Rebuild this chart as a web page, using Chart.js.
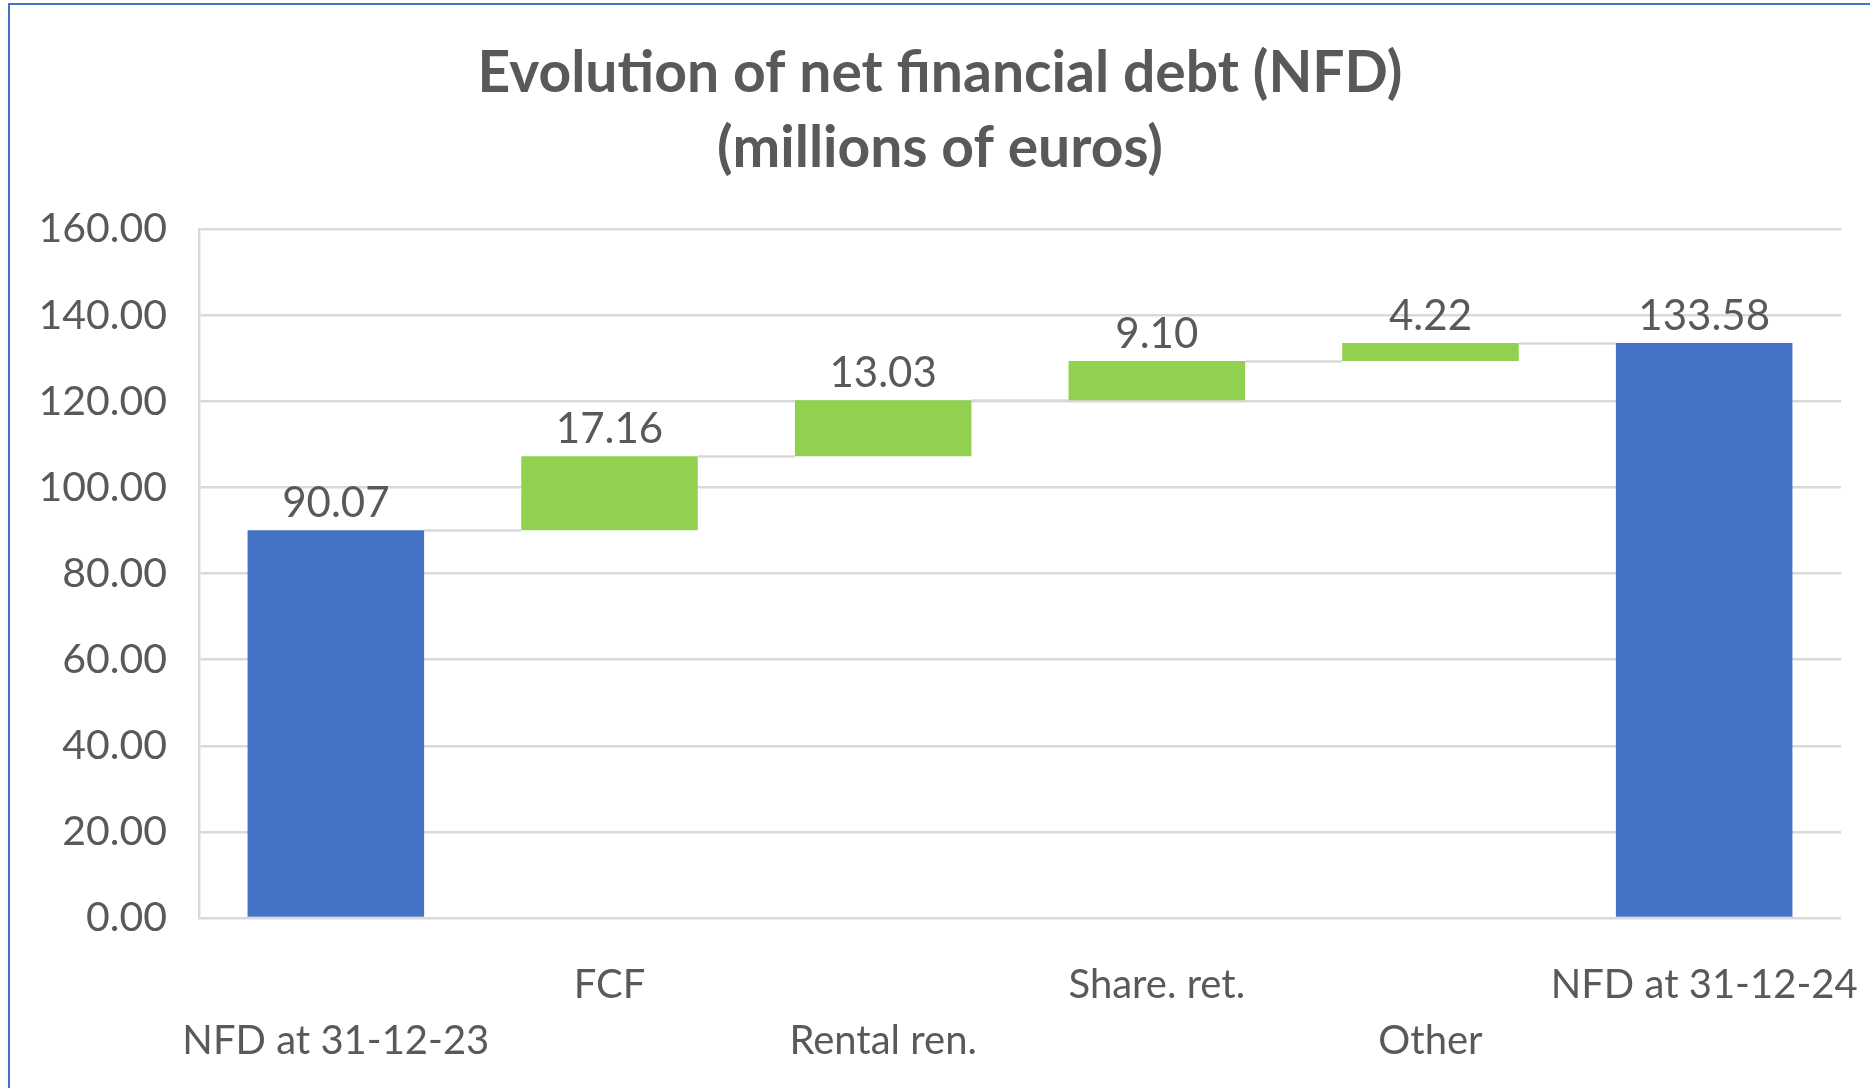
<!DOCTYPE html>
<html>
<head>
<meta charset="utf-8">
<script src="https://cdn.jsdelivr.net/npm/chart.js@4.4.1/dist/chart.umd.min.js"></script>
<style>
  html, body { margin: 0; padding: 0; background: #fff; }
  #wrap {
    position: absolute; left: 8px; top: 3px; right: 0; bottom: 0;
    border-left: 2px solid #4472c4; border-top: 2px solid #4472c4;
  }
  canvas { display: block; }
</style>
</head>
<body>
<div id="wrap"><canvas id="nfd" width="1860" height="1083"></canvas></div>
<script>
const categories = ['NFD at 31-12-23', 'FCF', 'Rental ren.', 'Share. ret.', 'Other', 'NFD at 31-12-24'];
const amounts = [90.07, 17.16, 13.03, 9.10, 4.22, 133.58];
const isTotal = [true, false, false, false, false, true];
const yMin = 0, yMax = 160, yStep = 20;

const textColor = '#595959';
const gridColor = '#d9d9d9';

// floating bar ranges for the waterfall
let running = 0;
const ranges = amounts.map((v, i) => {
  if (isTotal[i]) { running = v; return [0, v]; }
  const r = [running, +(running + v).toFixed(2)];
  running = r[1];
  return r;
});

const waterfallExtras = {
  id: 'waterfallExtras',
  beforeDatasetsDraw(chart) {
    const bars = chart.getDatasetMeta(0).data;
    const y = chart.scales.y;
    const ctx = chart.ctx;
    ctx.save();
    ctx.strokeStyle = gridColor;
    ctx.lineWidth = 2.5;
    for (let i = 0; i < bars.length - 1; i++) {
      const py = Math.round(y.getPixelForValue(ranges[i][1])) + 0.5;
      ctx.beginPath();
      ctx.moveTo(bars[i].x + bars[i].width / 2, py);
      ctx.lineTo(bars[i + 1].x - bars[i + 1].width / 2, py);
      ctx.stroke();
    }
    ctx.restore();
  },
  afterDatasetsDraw(chart) {
    const bars = chart.getDatasetMeta(0).data;
    const y = chart.scales.y;
    const ctx = chart.ctx;
    ctx.save();
    ctx.fillStyle = textColor;
    ctx.font = '42px Lato';
    ctx.textAlign = 'center';
    ctx.textBaseline = 'alphabetic';
    bars.forEach((b, i) => {
      const top = y.getPixelForValue(ranges[i][1]);
      ctx.fillText(amounts[i].toFixed(2), b.x, top - 13);
    });
    ctx.restore();
  }
};

Chart.defaults.font.family = 'Lato';
Chart.defaults.color = textColor;

new Chart(document.getElementById('nfd'), {
  type: 'bar',
  data: {
    labels: categories,
    datasets: [{
      data: ranges,
      backgroundColor: isTotal.map(t => t ? '#4472c4' : '#92d050'),
      borderWidth: 0,
      barPercentage: 0.645,
      categoryPercentage: 1
    }]
  },
  options: {
    responsive: false,
    animation: false,
    layout: { padding: { left: 29, right: 29, top: 0, bottom: 19 } },
    plugins: {
      legend: { display: false },
      tooltip: { enabled: false },
      title: {
        display: true,
        text: ['Evolution of net financial debt (NFD)', '(millions of euros)'],
        color: textColor,
        font: { size: 57, weight: 'bold', lineHeight: 1.3 },
        padding: { top: 32, bottom: 44 }
      }
    },
    scales: {
      x: {
        afterFit: axis => {
          axis.height = 151;
          axis.paddingLeft = 0;
          axis.paddingRight = 0;
        },
        grid: { display: false, drawTicks: false },
        border: { display: false },
        ticks: {
          font: { size: 40, lineHeight: 1.4 },
          padding: 39,
          maxRotation: 0,
          autoSkip: false,
          callback: (v, i) => i % 2 === 0 ? ['', categories[i]] : [categories[i]]
        }
      },
      y: {
        min: yMin,
        max: yMax,
        afterFit: axis => { axis.width = 160; },
        grid: { color: gridColor, lineWidth: 2.5, drawTicks: false },
        border: { display: true, color: gridColor, width: 2.5 },
        ticks: {
          stepSize: yStep,
          font: { size: 41 },
          padding: 32,
          callback: v => v.toFixed(2)
        }
      }
    }
  },
  plugins: [waterfallExtras]
});
</script>
</body>
</html>
